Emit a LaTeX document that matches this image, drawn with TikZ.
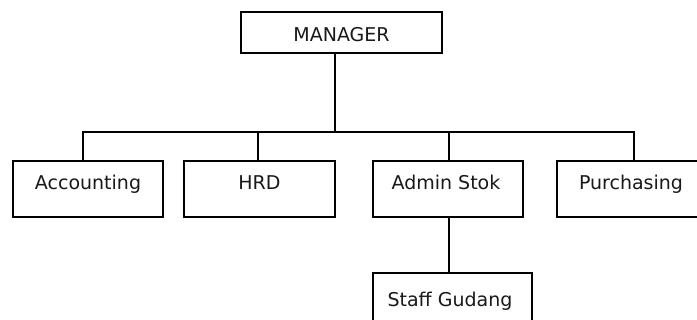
\documentclass[tikz,border=0pt]{standalone}
\usepackage{fontspec}
\setmainfont{DejaVu Sans}
\begin{document}
\begin{tikzpicture}[x=1pt,y=-1pt,
  box/.style={draw=black,line width=1.1pt,fill=white,inner sep=0pt,minimum height=56pt},
  txt/.style={anchor=base,inner sep=0pt,font=\fontsize{19}{22}\selectfont,text=black!90},
  conn/.style={draw=black,line width=1.1pt}]
\clip (0,0) rectangle (697,320);
\fill[white] (0,0) rectangle (697,320);
% boxes
\node[box,minimum width=201pt,minimum height=41pt] (mgr) at (341.5,32.5) {};
\node[box,minimum width=150pt] (acc) at (88,189) {};
\node[box,minimum width=151pt] (hrd) at (259.5,189) {};
\node[box,minimum width=150pt] (adm) at (448,189) {};
\node[box,minimum width=154pt] (pur) at (634,189) {};
\node[box,minimum width=159pt] (stf) at (452.5,301) {};
% texts
\node[txt] (tmgr) at (341.5,41.5) {MANAGER};
\node[txt] (tacc) at (88,190) {Accounting};
\node[txt] (thrd) at (259.5,190) {HRD};
\node[txt] (tadm) at (446,190) {Admin Stok};
\node[txt] (tpur) at (631,190) {Purchasing};
\node[txt] (tstf) at (450,307) {Staff Gudang};
% connectors
\coordinate (bus) at (335,132);
\coordinate (mgrs) at ([xshift=-6.5pt]mgr.south);
\coordinate (accn) at ([xshift=-5pt]acc.north);
\coordinate (hrdn) at ([xshift=-1.5pt]hrd.north);
\coordinate (admn) at ([xshift=1pt]adm.north);
\coordinate (admsb) at ([xshift=1pt]adm.south);
\draw[conn] (mgrs) -- (bus);
\draw[conn] (accn) |- (bus) -| (pur.north);
\draw[conn] (hrdn) -- (hrdn |- bus);
\draw[conn] (admn) -- (admn |- bus);
\draw[conn] (admsb) -- (admsb |- stf.north);
\end{tikzpicture}
\end{document}
